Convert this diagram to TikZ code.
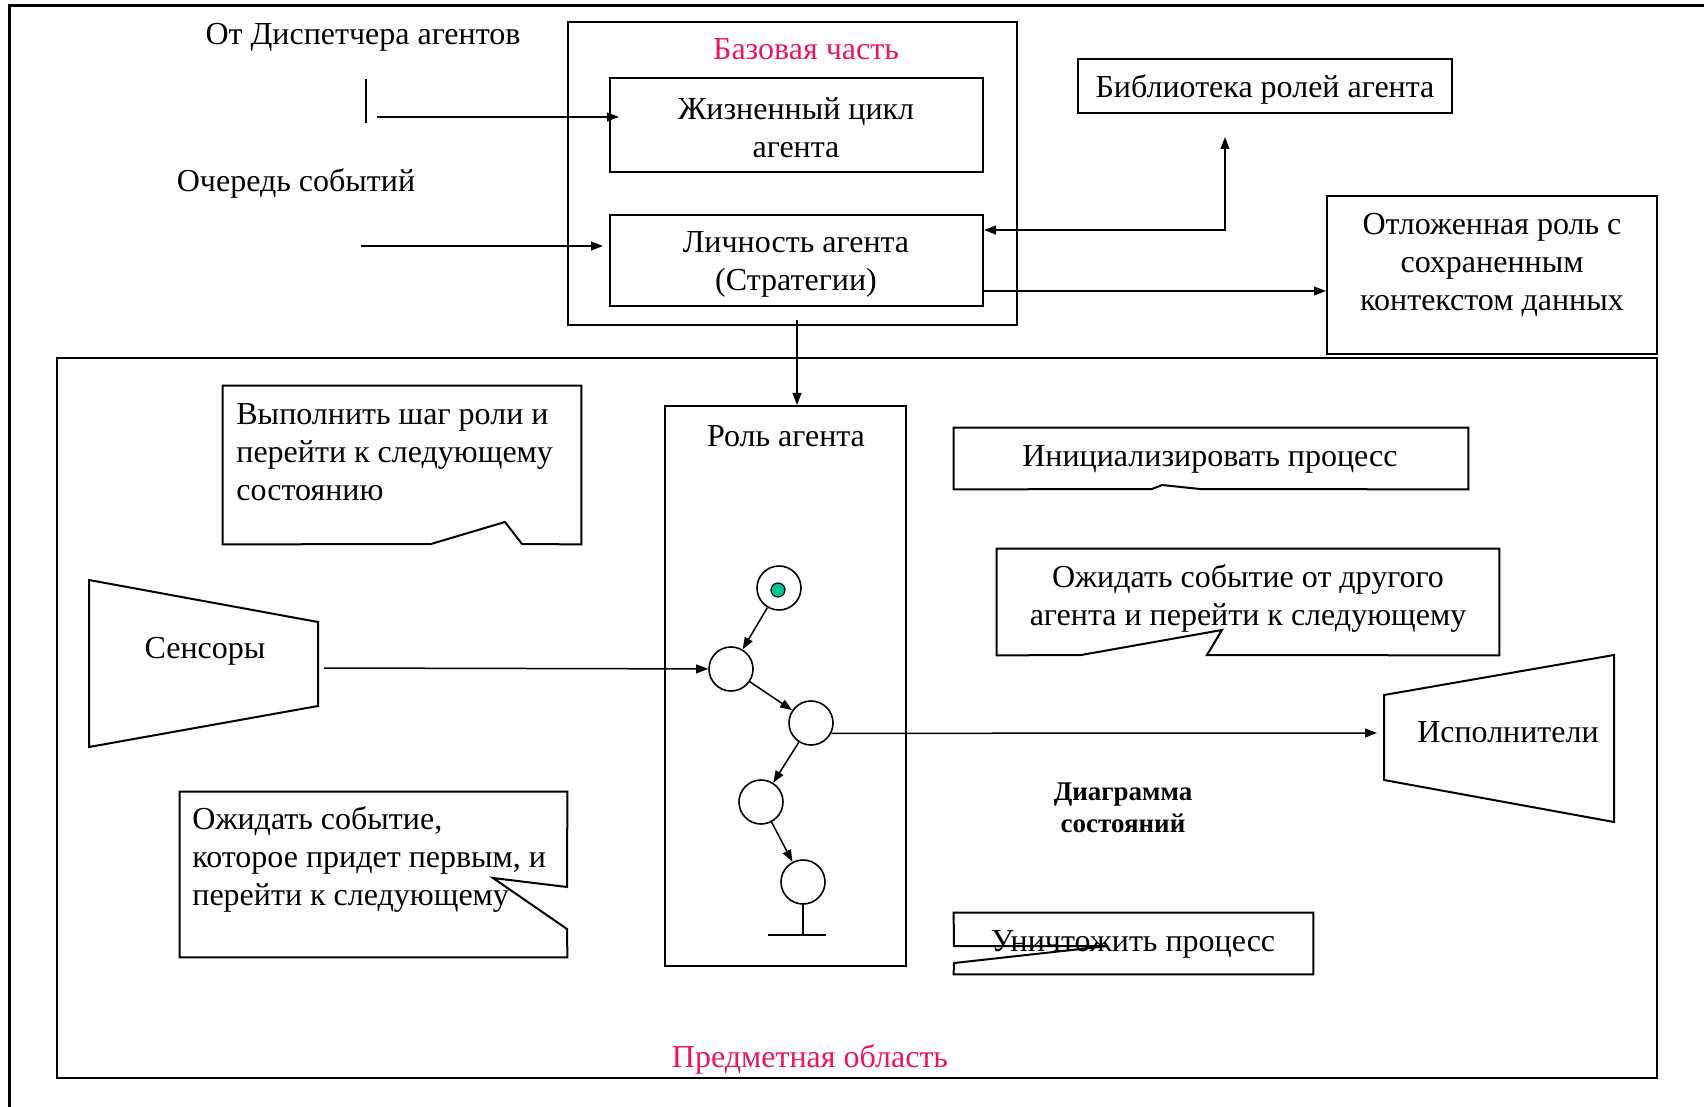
\documentclass[tikz,border=0pt]{standalone}
\usepackage{fontspec}
\setmainfont{Liberation Serif}
\usetikzlibrary{arrows.meta,fit,calc}
\definecolor{accent}{RGB}{236,22,94}
\definecolor{startdot}{RGB}{0,196,150}

\begin{document}
\begin{tikzpicture}[x=0.5pt,y=-0.5pt,
  >={Triangle[length=6pt,width=4.4pt]},
  every node/.style={font=\fontsize{16}{19}\selectfont, inner sep=0pt},
  frame/.style={draw, line width=1.5pt},
  area/.style={draw, line width=1.3pt, inner sep=0pt},
  box/.style={draw, line width=1pt, inner sep=0pt},
  holder/.style={inner sep=0pt},
  note/.style={draw, line width=1pt, line join=miter},
  arr/.style={line width=0.75pt, ->},
  state/.style={circle, draw, line width=0.8pt, minimum size=22pt, inner sep=0pt},
  title/.style={text=accent},
  funnel/.style={draw, line width=1pt, line join=miter}]

\useasboundingbox (0,0) rectangle (1704,1107);

% page frame, open to the right and bottom
\draw[frame] (9,1107) -- (9,6) -- (1704,6);

% ---- base part of the agent ----
\node[area, fit={(568,22) (1017,325)}] (base) {};
\node[title] (basetitle) at (806,49) {Базовая часть};
\node[box, fit={(610,78) (983,172)}] (life) {};
\node[align=center] (lifetext) at (796,128) {Жизненный цикл\\агента};
\node[box, fit={(610,215) (983,306)}] (pers) {};
\node[align=center] (perstext) at (796,264) {Личность агента\\(Стратегии)};

% inputs from the left
\node (displabel) at (363,37) {От Диспетчера агентов};
\coordinate (barT) at (366,79);
\coordinate (barB) at (366,123);
\draw[line width=0.8pt] (barT) -- (barB);
\coordinate (disp) at (377,117);
\draw[arr, shorten >=-5pt] (disp) -- (disp -| life.west);

\node (queuelabel) at (296,183) {Очередь событий};
\coordinate (queue) at (361,246);
\draw[arr, shorten >=3pt] (queue) -- (queue -| pers.west);

% role library and deferred role
\node[box, fit={(1078,59) (1452,113)}] (lib) {};
\node (libtext) at (1265,89) {Библиотека ролей агента};
\coordinate (libjoin) at (1225,230);
\draw[line width=0.75pt, <->, shorten >=11.5pt] (pers.east |- libjoin) -- (libjoin) -- (libjoin |- lib.south);

\node[box, fit={(1327,196) (1657,354)}] (defer) {};
\node[align=center] (defertext) at (1492,265) {Отложенная роль с\\сохраненным\\контекстом данных};
\coordinate (deferout) at (983,291);
\draw[arr] (deferout) -- (deferout -| defer.west);

% ---- domain area ----
\node[area, fit={(57,358) (1657,1078)}] (domain) {};
\node[title] (domaintitle) at (810,1059) {Предметная область};

% agent role with its state diagram
\node[box, fit={(665,406) (906,966)}] (role) {};
\node (roletitle) at (786,436) {Роль агента};
\coordinate (drop) at (797,320);
\draw[arr] (drop) -- (drop |- role.north);

\node[state] (st0) at (779,588) {};
\node[circle, draw, fill=startdot, line width=0.6pt, minimum size=7pt, inner sep=0pt] (dot) at (778,590) {};
\node[state] (s1) at (731,669) {};
\node[state] (s2) at (811,723) {};
\node[state] (s3) at (761,802) {};
\node[state] (s4) at (803,882) {};
\draw[arr] (st0) -- (s1);
\draw[arr] (s1) -- (s2);
\draw[arr] (s2) -- (s3);
\draw[arr] (s3) -- (s4);
\coordinate (endL) at (768,935);
\coordinate (endR) at (826,935);
\draw[line width=0.8pt] (s4.south) -- (s4.south |- endL);
\draw[line width=0.8pt] (endL) -- (endR);

\node[font=\fontsize{13.5}{16}\selectfont\bfseries, align=center] (sdlabel) at (1123,808) {Диаграмма\\состояний};

% sensors and executors
\draw[funnel] (89,580) -- (318,622) -- (318,706) -- (89,747) -- cycle;
\node (senslabel) at (205,651) {Сенсоры};
\coordinate (sensout) at (324,668);
\draw[arr] (sensout) -- (s1);

\draw[funnel] (1384,695) -- (1614,655) -- (1614,822) -- (1384,780) -- cycle;
\node (execlabel) at (1508,732) {Исполнители};
\coordinate (exin) at (1377,733);
\draw[arr] (s2.-27) -- (exin);

% ---- callouts ----
\node[holder, fit={(223,386) (581,544)}] (c1) {};
\draw[note] (c1.north west) -- (c1.north east) -- (c1.south east) -- (522,544) -- (505,522) -- (431,544) -- (c1.south west) -- cycle;
\node[anchor=west, align=left] (c1text) at (236,452) {Выполнить шаг роли и\\перейти к следующему\\состоянию};

\node[holder, fit={(954,428) (1468,489)}] (c2) {};
\draw[note] (c2.north west) -- (c2.north east) -- (c2.south east) -- (1200,489) -- (1162,485) -- (1152,489) -- (c2.south west) -- cycle;
\node (c2text) at (1210,459) {Инициализировать процесс};

\node[holder, fit={(997,549) (1499,655)}] (c3) {};
\draw[note] (c3.north west) -- (c3.north east) -- (c3.south east) -- (1207,655) -- (1222,630) -- (1081,655) -- (c3.south west) -- cycle;
\node[align=center] (c3text) at (1248,598) {Ожидать событие от другого\\агента и перейти к следующему};

\node[holder, fit={(180,792) (567,957)}] (c4) {};
\draw[note] (c4.north west) -- (c4.north east) -- (567,887) -- (493,878) -- (567,929) -- (c4.south east) -- (c4.south west) -- cycle;
\node[anchor=west, align=left] (c4text) at (192,859) {Ожидать событие,\\которое придет первым, и\\перейти к следующему};

\node[holder, fit={(954,913) (1313,974)}] (c5) {};
\draw[note] (c5.north west) -- (c5.north east) -- (c5.south east) -- (c5.south west) -- (954,963) -- (1108,946) -- (954,946) -- cycle;
\node (c5text) at (1133,944) {Уничтожить процесс};

\end{tikzpicture}
\end{document}
